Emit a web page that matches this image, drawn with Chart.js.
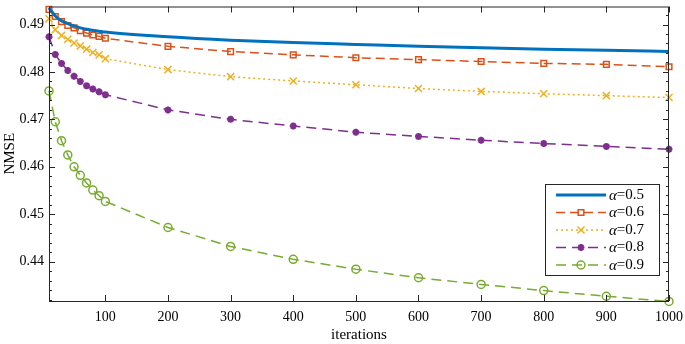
<!DOCTYPE html>
<html>
<head>
<meta charset="utf-8">
<script src="https://cdn.jsdelivr.net/npm/chart.js@4"></script>
<style>
  html, body { margin: 0; padding: 0; background: #fff; }
  #wrap { width: 685px; height: 344px; position: relative; }
</style>
</head>
<body>
<div id="wrap"><canvas id="nmse"></canvas></div>
<script>
// ── NMSE vs iterations for several alpha values ──

const iterations = [10, 20, 30, 40, 50, 60, 70, 80, 90, 100, 200, 300, 400, 500, 600, 700, 800, 900, 1000];
const alphaLabels = ['0.5', '0.6', '0.7', '0.8', '0.9'];

const nmseA05 = [0.4935, 0.4918, 0.4908, 0.4902, 0.4897, 0.4893, 0.4890, 0.4888, 0.4886, 0.4884,
                 0.4874, 0.4867, 0.4862, 0.4858, 0.4854, 0.4851, 0.4848, 0.4846, 0.4843];
const nmseA06 = [0.4932, 0.4917, 0.4906, 0.4898, 0.4893, 0.4887, 0.4882, 0.4878, 0.4875, 0.4871,
                 0.4854, 0.4843, 0.4836, 0.4830, 0.4826, 0.4822, 0.4818, 0.4816, 0.4811];
const nmseA07 = [0.4912, 0.4889, 0.4877, 0.4869, 0.4861, 0.4855, 0.4848, 0.4841, 0.4836, 0.4828,
                 0.4805, 0.4790, 0.4781, 0.4773, 0.4765, 0.4759, 0.4754, 0.4750, 0.4746];
const nmseA08 = [0.4874, 0.4837, 0.4818, 0.4803, 0.4791, 0.4780, 0.4771, 0.4764, 0.4758, 0.4752,
                 0.4720, 0.4700, 0.4686, 0.4673, 0.4664, 0.4656, 0.4649, 0.4643, 0.4637];
const nmseA09 = [0.4760, 0.4695, 0.4655, 0.4625, 0.4600, 0.4582, 0.4566, 0.4551, 0.4539, 0.4527,
                 0.4472, 0.4432, 0.4405, 0.4384, 0.4366, 0.4352, 0.4339, 0.4327, 0.4316];

const xTicks = [100, 200, 300, 400, 500, 600, 700, 800, 900, 1000];
const yTicks = [0.44, 0.45, 0.46, 0.47, 0.48, 0.49];

const FONT = 'Liberation Serif';
const AXIS = '#262626';

const series = [
  { data: nmseA05, color: '#0072BD', width: 3,   dash: [],      style: false,      radius: 0,   bw: 0,   fill: false },
  { data: nmseA06, color: '#D95319', width: 1.5, dash: [9, 5],  style: 'rect',     radius: 4,   bw: 1.5, fill: false },
  { data: nmseA07, color: '#EDB120', width: 1.5, dash: [2, 3],  style: 'crossRot', radius: 5,   bw: 1.5, fill: false },
  { data: nmseA08, color: '#7E2F8E', width: 1.5, dash: [10, 6], style: 'star',     radius: 3.5, bw: 2.2, fill: true  },
  { data: nmseA09, color: '#77AC30', width: 1.5, dash: [10, 6], style: 'circle',   radius: 4,   bw: 1.5, fill: false }
];

const datasets = series.map((s, i) => ({
  label: 'α=' + alphaLabels[i],
  data: iterations.map((x, j) => ({ x, y: s.data[j] })),
  borderColor: s.color,
  backgroundColor: s.fill ? s.color : 'rgba(0,0,0,0)',
  borderWidth: s.width,
  borderDash: s.dash,
  pointStyle: s.style,
  pointRadius: s.radius,
  pointBorderWidth: s.bw,
  pointBackgroundColor: s.fill ? s.color : 'rgba(0,0,0,0)',
  pointBorderColor: s.color,
  cubicInterpolationMode: i === 0 ? 'monotone' : 'default',
  tension: 0,
  showLine: true,
  clip: false
}));

// Box, inward tick marks (major + minor) and the in-plot legend
const boxPlugin = {
  id: 'boxTicks',
  afterDraw(chart) {
    const { ctx, chartArea: a, scales } = chart;
    const xs = scales.x, ys = scales.y;
    ctx.save();
    ctx.strokeStyle = AXIS;
    ctx.lineWidth = 1;
    ctx.setLineDash([]);
    ctx.strokeRect(a.left + 0.5, a.top + 0.5, a.right - a.left - 1, a.bottom - a.top);

    ctx.beginPath();
    xTicks.forEach(v => {
      const px = Math.round(xs.getPixelForValue(v)) + 0.5;
      ctx.moveTo(px, a.bottom); ctx.lineTo(px, a.bottom - 6);
      ctx.moveTo(px, a.top); ctx.lineTo(px, a.top + 6);
    });
    for (let k = 0; k <= 31; k++) {
      const v = 0.432 + k * 0.002;
      if (v > ys.max) break;
      const major = Math.abs(v * 100 - Math.round(v * 100)) < 1e-6;
      const len = major ? 6 : 3;
      const py = Math.round(ys.getPixelForValue(v)) + 0.5;
      ctx.moveTo(a.left, py); ctx.lineTo(a.left + len, py);
      ctx.moveTo(a.right, py); ctx.lineTo(a.right - len, py);
    }
    ctx.stroke();

    // legend
    const bx = 545, by = 184, bw = 114, bh = 91;
    ctx.fillStyle = '#fff';
    ctx.fillRect(bx, by, bw, bh);
    ctx.strokeRect(bx + 0.5, by + 0.5, bw, bh);
    const rows = [195, 212.5, 230, 247.5, 265];
    series.forEach((s, i) => {
      const y = rows[i];
      ctx.strokeStyle = s.color;
      ctx.lineWidth = s.width;
      ctx.setLineDash(s.dash);
      ctx.beginPath();
      ctx.moveTo(556, y); ctx.lineTo(606, y);
      ctx.stroke();
      ctx.setLineDash([]);
      if (s.style) {
        ctx.fillStyle = s.fill ? s.color : 'rgba(0,0,0,0)';
        ctx.strokeStyle = s.color;
        ctx.lineWidth = s.bw;
        Chart.helpers.drawPoint(ctx, { pointStyle: s.style, radius: s.radius, borderWidth: s.bw, rotation: 0 }, 581, y);
      }
      ctx.fillStyle = '#000';
      ctx.textBaseline = 'middle';
      ctx.textAlign = 'left';
      ctx.font = 'italic 15px ' + FONT;
      ctx.fillText('α', 609, y + 1);
      const w = ctx.measureText('α').width;
      ctx.font = '15px ' + FONT;
      ctx.fillText('=' + alphaLabels[i], 609 + w, y);
    });
    ctx.restore();
  }
};

new Chart(document.getElementById('nmse'), {
  type: 'scatter',
  data: { datasets },
  plugins: [boxPlugin],
  options: {
    responsive: true,
    maintainAspectRatio: false,
    animation: false,
    layout: { padding: { top: 3, right: 16, left: 0, bottom: 0 } },
    plugins: { legend: { display: false }, tooltip: { enabled: false } },
    scales: {
      x: {
        type: 'linear',
        min: 10, max: 1000,
        afterBuildTicks: s => { s.ticks = xTicks.map(v => ({ value: v })); },
        afterFit: s => { s.height = 43; s.paddingLeft = 0; s.paddingRight = 0; },
        grid: { display: false, drawTicks: false },
        border: { display: false },
        ticks: { color: '#000', padding: 8, maxRotation: 0, font: { size: 14, family: FONT }, callback: v => String(v) },
        title: { display: true, text: 'iterations', color: '#000', padding: { top: 0, bottom: 0 }, font: { size: 15, family: FONT } }
      },
      y: {
        type: 'linear',
        min: 0.4317, max: 0.4938,
        afterBuildTicks: s => { s.ticks = yTicks.map(v => ({ value: v })); },
        afterFit: s => { s.width = 49; s.paddingTop = 0; s.paddingBottom = 0; },
        grid: { display: false, drawTicks: false },
        border: { display: false },
        ticks: { color: '#000', padding: 5, font: { size: 14, family: FONT }, callback: v => v.toFixed(2) },
        title: { display: true, text: 'NMSE', color: '#000', padding: { top: 1, bottom: 0 }, font: { size: 15, family: FONT } }
      }
    }
  }
});
</script>
</body>
</html>
